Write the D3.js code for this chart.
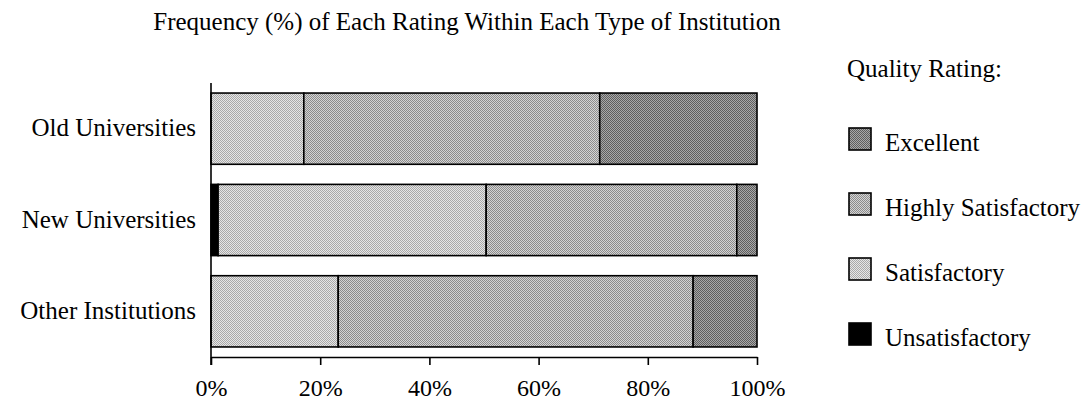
<!DOCTYPE html>
<html>
<head>
<meta charset="utf-8">
<script src="https://cdn.jsdelivr.net/npm/d3@7"></script>
<style>
  html, body { margin: 0; padding: 0; background: #fff; }
  svg { display: block; font-family: "Liberation Serif", "Times New Roman", serif; }
</style>
</head>
<body>
<svg id="chart" width="1089" height="403"></svg>
<script>
// ---- data ----
const categories = ["Old Universities", "New Universities", "Other Institutions"];
const ratings = ["Unsatisfactory", "Satisfactory", "Highly Satisfactory", "Excellent"];
const unsatisfactory = [0, 1.3, 0];
const satisfactory = [17, 49.1, 23.3];
const highlySatisfactory = [54.2, 45.9, 65];
const excellent = [28.8, 3.7, 11.7];
const xTicks = [0, 20, 40, 60, 80, 100];
const legendOrder = ["Excellent", "Highly Satisfactory", "Satisfactory", "Unsatisfactory"];

const seriesValues = {
  "Unsatisfactory": unsatisfactory,
  "Satisfactory": satisfactory,
  "Highly Satisfactory": highlySatisfactory,
  "Excellent": excellent
};

const rows = categories.map((c, i) => {
  const r = { category: c };
  ratings.forEach(k => r[k] = seriesValues[k][i]);
  return r;
});

const svg = d3.select("#chart");

// halftone-like patterns
const defs = svg.append("defs");
function checker(id, a, b) {
  const p = defs.append("pattern").attr("id", id)
    .attr("patternUnits", "userSpaceOnUse").attr("width", 2).attr("height", 2);
  p.append("rect").attr("width", 2).attr("height", 2).attr("fill", a);
  p.append("rect").attr("width", 1).attr("height", 1).attr("fill", b);
  p.append("rect").attr("x", 1).attr("y", 1).attr("width", 1).attr("height", 1).attr("fill", b);
}
checker("pSat", "#e6e6e6", "#a9a9a9");
checker("pHigh", "#d4d4d4", "#8c8c8c");
checker("pExc", "#a8a8a8", "#5e5e5e");

const fills = {
  "Unsatisfactory": "#000",
  "Satisfactory": "url(#pSat)",
  "Highly Satisfactory": "url(#pHigh)",
  "Excellent": "url(#pExc)"
};

const x = d3.scaleLinear().domain([0, 100]).range([211, 757]);
const y = d3.scaleBand().domain(categories).range([83, 357])
  .paddingInner(0.22).paddingOuter(0.11);

const stack = d3.stack().keys(ratings);
const series = stack(rows);

// bars
svg.append("g").selectAll("g")
  .data(series).join("g")
  .attr("fill", d => fills[d.key])
  .selectAll("rect")
  .data(d => d.filter(s => s[1] - s[0] > 0))
  .join("rect")
  .attr("x", d => x(d[0]))
  .attr("y", d => y(d.data.category))
  .attr("width", d => x(d[1]) - x(d[0]))
  .attr("height", y.bandwidth())
  .attr("stroke", "#000")
  .attr("stroke-width", 1.6);

// x axis
const xAxis = d3.axisBottom(x).tickValues(xTicks).tickFormat(d => d + "%")
  .tickSize(8).tickSizeOuter(0).tickPadding(14);
const gx = svg.append("g").attr("transform", "translate(0,357)").call(xAxis);
gx.select(".domain").attr("stroke", "#000").attr("stroke-width", 1.6);
gx.selectAll(".tick line").attr("stroke", "#000").attr("stroke-width", 1.6);
gx.selectAll(".tick text").attr("font-size", 24).attr("fill", "#000")
  .attr("font-family", "Liberation Serif, serif").attr("dy", "0.71em");

// y axis
const yAxis = d3.axisLeft(y).tickSize(0).tickSizeOuter(0).tickPadding(15);
const gy = svg.append("g").attr("transform", "translate(211,0)").call(yAxis);
gy.select(".domain").attr("stroke", "#000").attr("stroke-width", 1.6)
  .attr("d", "M0,83V365");
gy.selectAll(".tick text").attr("font-size", 25).attr("fill", "#000")
  .attr("font-family", "Liberation Serif, serif").attr("dy", "0.3em");

// title
svg.append("text").attr("x", 467).attr("y", 30).attr("text-anchor", "middle")
  .attr("font-size", 25).attr("fill", "#000")
  .text("Frequency (%) of Each Rating Within Each Type of Institution");

// legend
const lg = svg.append("g");
lg.append("text").attr("x", 847).attr("y", 77).attr("font-size", 25).attr("fill", "#000")
  .text("Quality Rating:");
const ly = d3.scalePoint().domain(legendOrder).range([128, 323]);
const items = lg.selectAll("g.item").data(legendOrder).join("g").attr("class", "item");
items.append("rect")
  .attr("x", 849).attr("y", d => ly(d))
  .attr("width", 22).attr("height", 22)
  .attr("fill", d => fills[d])
  .attr("stroke", "#000").attr("stroke-width", 1.6);
items.append("text")
  .attr("x", 885).attr("y", d => ly(d) + 23)
  .attr("font-size", 25).attr("fill", "#000")
  .text(d => d);
</script>
</body>
</html>
